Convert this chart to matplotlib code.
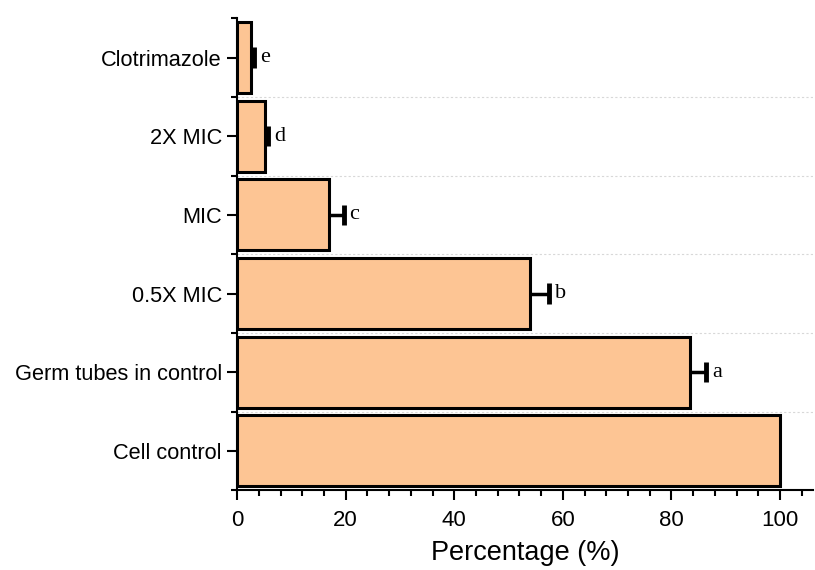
import matplotlib
matplotlib.use("Agg")
import matplotlib.pyplot as plt
import numpy as np
from matplotlib.ticker import MultipleLocator, FixedLocator

categories = ["Cell control", "Germ tubes in control", "0.5X MIC", "MIC", "2X MIC", "Clotrimazole"]
values = [100, 83.5, 53.9, 16.9, 5.1, 2.6]
errors = [0, 2.9, 3.5, 2.7, 0.6, 0.5]
letters = ["", "a", "b", "c", "d", "e"]

plt.rcParams['font.family'] = ['Liberation Sans', 'DejaVu Sans']

fig = plt.figure(figsize=(8.15, 5.7), dpi=100)
ax = fig.add_axes([0.291, 0.140, 0.706, 0.828])

y = np.arange(len(categories))
ax.barh(y, values, height=0.9, color="#FDC594", edgecolor="black", linewidth=2.2, zorder=3)

vals = np.array(values)
errs = np.array(errors)
has = errs > 0
ax.hlines(y[has], vals[has], vals[has] + errs[has], color="black", linewidth=2.5, zorder=4)
ax.vlines(vals[has] + errs[has], y[has] - 0.13, y[has] + 0.13, color="black", linewidth=3.5, zorder=4)

for yi, v, e, l in zip(y, values, errors, letters):
    if l:
        ax.text(v + e + 1.1, yi, l, family=['Liberation Serif'], fontsize=16,
                va="center", ha="left", zorder=5)

ax.set_xlim(0, 106)
ax.set_ylim(-0.5, 5.5)
ax.set_yticks(y)
ax.set_yticklabels(categories, fontsize=15.7)
ax.yaxis.set_minor_locator(FixedLocator(np.arange(-0.5, 5.6, 1.0)))
ax.xaxis.set_major_locator(MultipleLocator(20))
ax.xaxis.set_minor_locator(MultipleLocator(4))
ax.tick_params(axis="both", which="major", length=7, width=1.5)
ax.tick_params(axis="x", which="major", labelsize=16, pad=7)
ax.tick_params(axis="both", which="minor", length=4, width=1.5)
ax.tick_params(axis="y", which="major", pad=4)
ax.set_xlabel("Percentage (%)", fontsize=19.5, labelpad=7)

for s in ["top", "right"]:
    ax.spines[s].set_visible(False)
for s in ["left", "bottom"]:
    ax.spines[s].set_linewidth(1.5)

for b in np.arange(0.5, 5.0, 1.0):
    ax.axhline(b, color="#d8d8d8", linestyle=(0, (2, 2)), linewidth=0.8, zorder=1)

fig.savefig("out.png", dpi=100)
